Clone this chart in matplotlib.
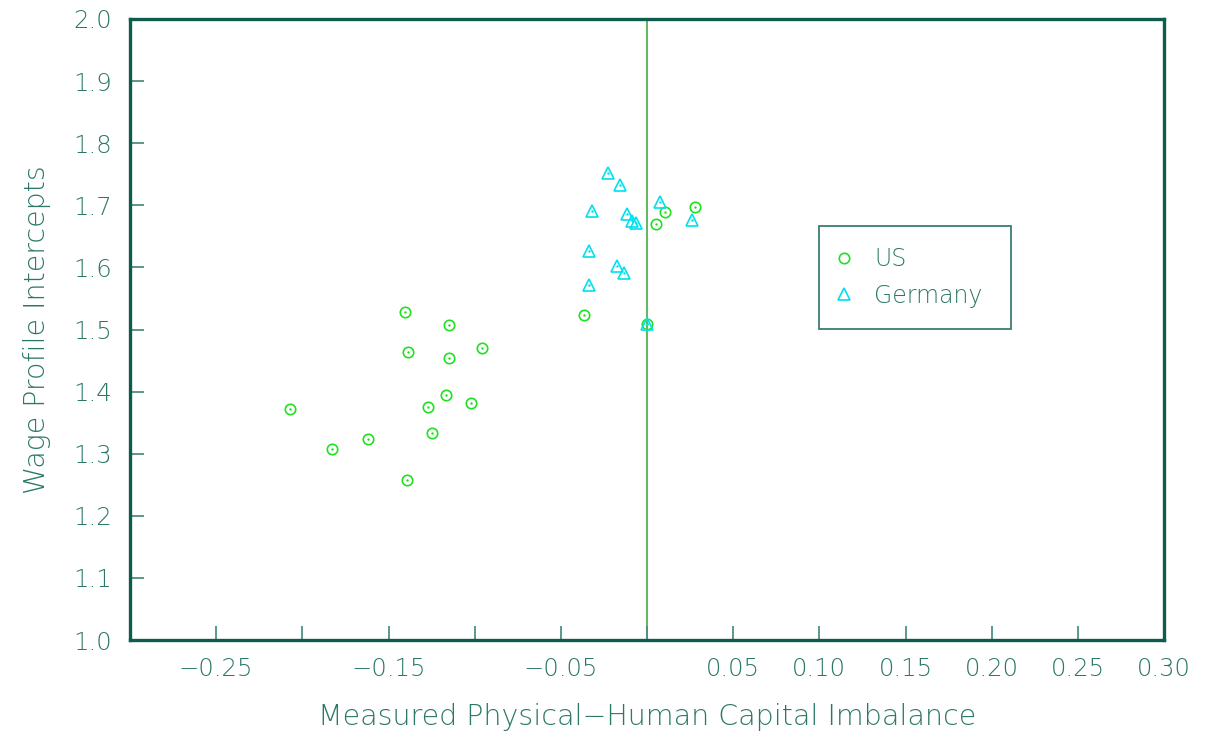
import matplotlib
matplotlib.use("Agg")
import matplotlib.pyplot as plt
from matplotlib.lines import Line2D

# Data
us_x = [-0.1405, -0.1150, -0.1387, -0.1148, -0.0959, -0.1167, -0.1024, -0.1269, -0.2070,
        -0.1248, -0.1619, -0.1830, -0.1391, 0.0104, 0.0280, 0.0054, -0.0363, -0.0002]
us_y = [1.528, 1.508, 1.463, 1.454, 1.470, 1.394, 1.382, 1.375, 1.372,
        1.333, 1.323, 1.308, 1.258, 1.690, 1.697, 1.670, 1.523, 1.509]
de_x = [-0.0224, -0.0155, -0.0317, -0.0116, -0.0085, -0.0065, 0.0073, 0.0260,
        -0.0334, -0.0174, -0.0131, -0.0337, -0.0002]
de_y = [1.752, 1.732, 1.691, 1.686, 1.674, 1.671, 1.705, 1.677,
        1.626, 1.603, 1.591, 1.572, 1.509]
xticks = [-0.30, -0.25, -0.20, -0.15, -0.10, -0.05, 0.00, 0.05, 0.10, 0.15, 0.20, 0.25, 0.30]
xticklabels = ["", "\u22120.25", "", "\u22120.15", "", "\u22120.05", "", "0.05", "0.10", "0.15", "0.20", "0.25", "0.30"]
yticks = [1.0, 1.1, 1.2, 1.3, 1.4, 1.5, 1.6, 1.7, 1.8, 1.9, 2.0]

SPINE = "#0d5c4e"
TEXT = "#2b7868"
TICK = "#4f8f82"
GREEN = "#22e022"
CYAN = "#00e0ee"
VLINE = "#66b866"

plt.rcParams["font.family"] = ["DejaVu Sans"]
plt.rcParams["font.weight"] = "light"
plt.rcParams["axes.labelweight"] = "light"

fig = plt.figure(figsize=(12.07, 7.36), dpi=100)
ax = fig.add_axes([130 / 1207, 1 - 640 / 736, (1164 - 130) / 1207, (640 - 19) / 736])

ax.set_xlim(-0.30, 0.30)
ax.set_ylim(1.0, 2.0)

ax.axvline(0.0, color=VLINE, lw=1.5, zorder=1)

ax.plot(us_x, us_y, linestyle="none", marker="o", markersize=7.5, markerfacecolor="none",
        markeredgecolor=GREEN, markeredgewidth=1.2, zorder=3)
ax.plot(us_x, us_y, linestyle="none", marker=".", markersize=1.5, color=GREEN, zorder=3)
ax.plot(de_x, de_y, linestyle="none", marker="^", markersize=8, markerfacecolor="none",
        markeredgecolor=CYAN, markeredgewidth=1.2, zorder=3)
ax.plot(de_x, de_y, linestyle="none", marker=".", markersize=1.5, color=CYAN, zorder=3)

ax.set_xticks(xticks)
ax.set_xticklabels(xticklabels)
ax.set_yticks(yticks)
ax.set_yticklabels([f"{v:.1f}" for v in yticks])

ax.tick_params(axis="both", direction="in", length=10, width=1.3, color=TICK,
               labelcolor=TEXT, labelsize=17.5)
ax.tick_params(axis="x", pad=12)
ax.tick_params(axis="y", pad=13)
for s in ax.spines.values():
    s.set_color(SPINE)
    s.set_linewidth(2.4)

ax.set_xlabel("Measured Physical\u2212Human Capital Imbalance", color=TEXT, fontsize=20.5,
              fontweight="light", labelpad=16)
ax.set_ylabel("Wage Profile Intercepts", color=TEXT, fontsize=20.5, fontweight="light", labelpad=16)

handles = [
    Line2D([], [], linestyle="none", marker="o", markersize=7.5, markerfacecolor="none",
           markeredgecolor=GREEN, markeredgewidth=1.2),
    Line2D([], [], linestyle="none", marker="^", markersize=8, markerfacecolor="none",
           markeredgecolor=CYAN, markeredgewidth=1.2),
]
leg = ax.legend(handles, ["US", "Germany"], loc="center",
                bbox_to_anchor=((819 - 130) / 1034, (640 - 329) / 621, (1011 - 819) / 1034, (329 - 226) / 621),
                mode="expand", borderaxespad=0, frameon=True, fancybox=False,
                handlelength=0.3, handletextpad=1.15, borderpad=0.9, labelspacing=0.52,
                fontsize=17, labelcolor=TEXT)
leg.get_frame().set_edgecolor(SPINE)
leg.get_frame().set_linewidth(1.3)

fig.savefig("out.png", dpi=100)
